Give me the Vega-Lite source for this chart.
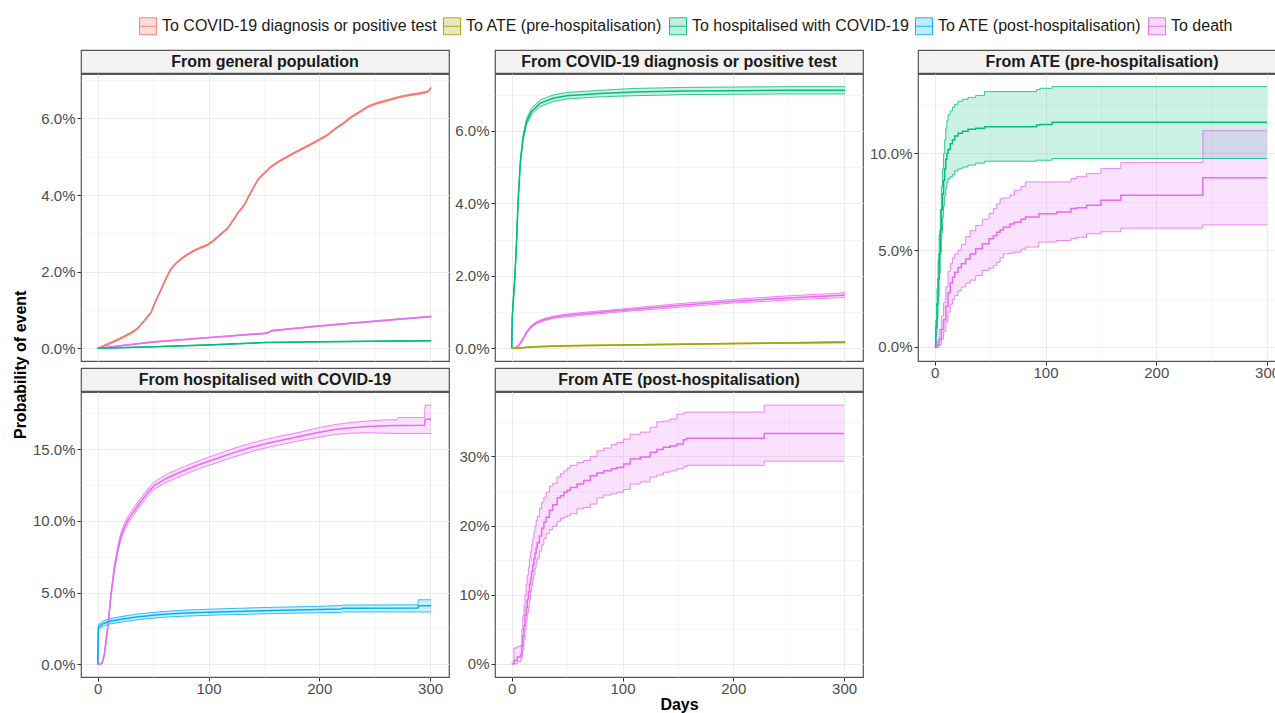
{
  "$schema": "https://vega.github.io/schema/vega-lite/v6.json",
  "padding": {"top": 17, "left": 12, "right": 0, "bottom": 0},
  "title": {"text": "Probability of event", "orient": "left", "anchor": "middle", "fontSize": 16, "fontWeight": "bold", "color": "#000000", "offset": 3},
  "datasets": {
    "cif": [
      {"panel":"gen","to":"To COVID-19 diagnosis or positive test","day":0,"est":0,"lo":0,"hi":0},
      {"panel":"gen","to":"To COVID-19 diagnosis or positive test","day":10,"est":0.0012,"lo":0.001,"hi":0.0014},
      {"panel":"gen","to":"To COVID-19 diagnosis or positive test","day":20,"est":0.0025,"lo":0.0023,"hi":0.0027},
      {"panel":"gen","to":"To COVID-19 diagnosis or positive test","day":30,"est":0.004,"lo":0.0038,"hi":0.0042},
      {"panel":"gen","to":"To COVID-19 diagnosis or positive test","day":36,"est":0.0052,"lo":0.005,"hi":0.0054},
      {"panel":"gen","to":"To COVID-19 diagnosis or positive test","day":42,"est":0.0072,"lo":0.007,"hi":0.0074},
      {"panel":"gen","to":"To COVID-19 diagnosis or positive test","day":48,"est":0.0093,"lo":0.0091,"hi":0.0095},
      {"panel":"gen","to":"To COVID-19 diagnosis or positive test","day":53,"est":0.0128,"lo":0.0126,"hi":0.013},
      {"panel":"gen","to":"To COVID-19 diagnosis or positive test","day":57,"est":0.0152,"lo":0.015,"hi":0.0154},
      {"panel":"gen","to":"To COVID-19 diagnosis or positive test","day":61,"est":0.0178,"lo":0.0176,"hi":0.018},
      {"panel":"gen","to":"To COVID-19 diagnosis or positive test","day":66,"est":0.0207,"lo":0.0205,"hi":0.0209},
      {"panel":"gen","to":"To COVID-19 diagnosis or positive test","day":70,"est":0.022,"lo":0.0218,"hi":0.0222},
      {"panel":"gen","to":"To COVID-19 diagnosis or positive test","day":75,"est":0.0233,"lo":0.0231,"hi":0.0235},
      {"panel":"gen","to":"To COVID-19 diagnosis or positive test","day":81,"est":0.0245,"lo":0.0243,"hi":0.0247},
      {"panel":"gen","to":"To COVID-19 diagnosis or positive test","day":87,"est":0.0255,"lo":0.0253,"hi":0.0257},
      {"panel":"gen","to":"To COVID-19 diagnosis or positive test","day":93,"est":0.0263,"lo":0.0261,"hi":0.0265},
      {"panel":"gen","to":"To COVID-19 diagnosis or positive test","day":99,"est":0.027,"lo":0.0268,"hi":0.0272},
      {"panel":"gen","to":"To COVID-19 diagnosis or positive test","day":104,"est":0.028,"lo":0.0278,"hi":0.0282},
      {"panel":"gen","to":"To COVID-19 diagnosis or positive test","day":108,"est":0.029,"lo":0.0288,"hi":0.0292},
      {"panel":"gen","to":"To COVID-19 diagnosis or positive test","day":113,"est":0.0303,"lo":0.0301,"hi":0.0305},
      {"panel":"gen","to":"To COVID-19 diagnosis or positive test","day":117,"est":0.0312,"lo":0.031,"hi":0.0314},
      {"panel":"gen","to":"To COVID-19 diagnosis or positive test","day":120,"est":0.0325,"lo":0.0323,"hi":0.0327},
      {"panel":"gen","to":"To COVID-19 diagnosis or positive test","day":123,"est":0.0338,"lo":0.0336,"hi":0.034},
      {"panel":"gen","to":"To COVID-19 diagnosis or positive test","day":127,"est":0.0355,"lo":0.0353,"hi":0.0357},
      {"panel":"gen","to":"To COVID-19 diagnosis or positive test","day":132,"est":0.0373,"lo":0.0371,"hi":0.0375},
      {"panel":"gen","to":"To COVID-19 diagnosis or positive test","day":136,"est":0.0395,"lo":0.0393,"hi":0.0397},
      {"panel":"gen","to":"To COVID-19 diagnosis or positive test","day":141,"est":0.0422,"lo":0.042,"hi":0.0424},
      {"panel":"gen","to":"To COVID-19 diagnosis or positive test","day":145,"est":0.0442,"lo":0.044,"hi":0.0444},
      {"panel":"gen","to":"To COVID-19 diagnosis or positive test","day":150,"est":0.0456,"lo":0.0454,"hi":0.0458},
      {"panel":"gen","to":"To COVID-19 diagnosis or positive test","day":156,"est":0.0473,"lo":0.0471,"hi":0.0475},
      {"panel":"gen","to":"To COVID-19 diagnosis or positive test","day":162,"est":0.0485,"lo":0.0483,"hi":0.0487},
      {"panel":"gen","to":"To COVID-19 diagnosis or positive test","day":168,"est":0.0495,"lo":0.0493,"hi":0.0497},
      {"panel":"gen","to":"To COVID-19 diagnosis or positive test","day":176,"est":0.0508,"lo":0.0506,"hi":0.051},
      {"panel":"gen","to":"To COVID-19 diagnosis or positive test","day":184,"est":0.052,"lo":0.0518,"hi":0.0522},
      {"panel":"gen","to":"To COVID-19 diagnosis or positive test","day":192,"est":0.0532,"lo":0.053,"hi":0.0534},
      {"panel":"gen","to":"To COVID-19 diagnosis or positive test","day":199,"est":0.0543,"lo":0.0541,"hi":0.0545},
      {"panel":"gen","to":"To COVID-19 diagnosis or positive test","day":207,"est":0.0556,"lo":0.0554,"hi":0.0558},
      {"panel":"gen","to":"To COVID-19 diagnosis or positive test","day":214,"est":0.0572,"lo":0.057,"hi":0.0574},
      {"panel":"gen","to":"To COVID-19 diagnosis or positive test","day":222,"est":0.0588,"lo":0.0586,"hi":0.059},
      {"panel":"gen","to":"To COVID-19 diagnosis or positive test","day":229,"est":0.0604,"lo":0.0602,"hi":0.0606},
      {"panel":"gen","to":"To COVID-19 diagnosis or positive test","day":237,"est":0.0618,"lo":0.0616,"hi":0.062},
      {"panel":"gen","to":"To COVID-19 diagnosis or positive test","day":244,"est":0.0631,"lo":0.0629,"hi":0.0633},
      {"panel":"gen","to":"To COVID-19 diagnosis or positive test","day":251,"est":0.0639,"lo":0.0637,"hi":0.0641},
      {"panel":"gen","to":"To COVID-19 diagnosis or positive test","day":259,"est":0.0645,"lo":0.0643,"hi":0.0647},
      {"panel":"gen","to":"To COVID-19 diagnosis or positive test","day":266,"est":0.0651,"lo":0.0649,"hi":0.0653},
      {"panel":"gen","to":"To COVID-19 diagnosis or positive test","day":274,"est":0.0657,"lo":0.0655,"hi":0.0659},
      {"panel":"gen","to":"To COVID-19 diagnosis or positive test","day":283,"est":0.0662,"lo":0.066,"hi":0.0664},
      {"panel":"gen","to":"To COVID-19 diagnosis or positive test","day":292,"est":0.0666,"lo":0.0664,"hi":0.0668},
      {"panel":"gen","to":"To COVID-19 diagnosis or positive test","day":298,"est":0.067,"lo":0.0668,"hi":0.0672},
      {"panel":"gen","to":"To COVID-19 diagnosis or positive test","day":301,"est":0.068,"lo":0.0676,"hi":0.0682},
      {"panel":"gen","to":"To death","day":0,"est":0,"lo":0,"hi":0},
      {"panel":"gen","to":"To death","day":50,"est":0.00166,"lo":0.00156,"hi":0.00176},
      {"panel":"gen","to":"To death","day":100,"est":0.0028,"lo":0.0027,"hi":0.0029},
      {"panel":"gen","to":"To death","day":150,"est":0.0039,"lo":0.0038,"hi":0.004},
      {"panel":"gen","to":"To death","day":153,"est":0.004,"lo":0.0039,"hi":0.0041},
      {"panel":"gen","to":"To death","day":157,"est":0.0046,"lo":0.0045,"hi":0.0047},
      {"panel":"gen","to":"To death","day":200,"est":0.00585,"lo":0.00575,"hi":0.00595},
      {"panel":"gen","to":"To death","day":250,"est":0.0071,"lo":0.007,"hi":0.0072},
      {"panel":"gen","to":"To death","day":301,"est":0.0083,"lo":0.0082,"hi":0.0084},
      {"panel":"gen","to":"To hospitalised with COVID-19","day":0,"est":0,"lo":0,"hi":0},
      {"panel":"gen","to":"To hospitalised with COVID-19","day":50,"est":0.0004,"lo":0.00035,"hi":0.00045},
      {"panel":"gen","to":"To hospitalised with COVID-19","day":100,"est":0.0009,"lo":0.00085,"hi":0.00095},
      {"panel":"gen","to":"To hospitalised with COVID-19","day":150,"est":0.0015,"lo":0.00145,"hi":0.00155},
      {"panel":"gen","to":"To hospitalised with COVID-19","day":200,"est":0.0017,"lo":0.00165,"hi":0.00175},
      {"panel":"gen","to":"To hospitalised with COVID-19","day":250,"est":0.00185,"lo":0.0018,"hi":0.0019},
      {"panel":"gen","to":"To hospitalised with COVID-19","day":301,"est":0.002,"lo":0.00195,"hi":0.00205},

      {"panel":"dx","to":"To hospitalised with COVID-19","day":0,"est":0,"lo":0,"hi":0},
      {"panel":"dx","to":"To hospitalised with COVID-19","day":0.5,"est":0.009,"lo":0.0085,"hi":0.0095},
      {"panel":"dx","to":"To hospitalised with COVID-19","day":2.7,"est":0.019,"lo":0.0185,"hi":0.0195},
      {"panel":"dx","to":"To hospitalised with COVID-19","day":4.2,"est":0.0283,"lo":0.0278,"hi":0.0288},
      {"panel":"dx","to":"To hospitalised with COVID-19","day":5.7,"est":0.0403,"lo":0.0397,"hi":0.0409},
      {"panel":"dx","to":"To hospitalised with COVID-19","day":7.8,"est":0.0514,"lo":0.0507,"hi":0.0521},
      {"panel":"dx","to":"To hospitalised with COVID-19","day":10.2,"est":0.0579,"lo":0.0572,"hi":0.0586},
      {"panel":"dx","to":"To hospitalised with COVID-19","day":13.3,"est":0.0625,"lo":0.0617,"hi":0.0633},
      {"panel":"dx","to":"To hospitalised with COVID-19","day":17.8,"est":0.0653,"lo":0.0644,"hi":0.0662},
      {"panel":"dx","to":"To hospitalised with COVID-19","day":25.3,"est":0.0676,"lo":0.0667,"hi":0.0685},
      {"panel":"dx","to":"To hospitalised with COVID-19","day":37.3,"est":0.069,"lo":0.0681,"hi":0.0699},
      {"panel":"dx","to":"To hospitalised with COVID-19","day":49.4,"est":0.0697,"lo":0.0688,"hi":0.0706},
      {"panel":"dx","to":"To hospitalised with COVID-19","day":79.5,"est":0.0703,"lo":0.0694,"hi":0.0712},
      {"panel":"dx","to":"To hospitalised with COVID-19","day":109.6,"est":0.0707,"lo":0.0697,"hi":0.0717},
      {"panel":"dx","to":"To hospitalised with COVID-19","day":154.8,"est":0.071,"lo":0.07,"hi":0.072},
      {"panel":"dx","to":"To hospitalised with COVID-19","day":200,"est":0.0711,"lo":0.0701,"hi":0.0721},
      {"panel":"dx","to":"To hospitalised with COVID-19","day":245,"est":0.0712,"lo":0.0702,"hi":0.0722},
      {"panel":"dx","to":"To hospitalised with COVID-19","day":301,"est":0.0712,"lo":0.0702,"hi":0.0722},
      {"panel":"dx","to":"To death","day":0,"est":0,"lo":0,"hi":0},
      {"panel":"dx","to":"To death","day":3,"est":0,"lo":0,"hi":0},
      {"panel":"dx","to":"To death","day":7,"est":0.001,"lo":0.0009,"hi":0.0011},
      {"panel":"dx","to":"To death","day":10,"est":0.0025,"lo":0.0023,"hi":0.0027},
      {"panel":"dx","to":"To death","day":13,"est":0.0042,"lo":0.0039,"hi":0.0045},
      {"panel":"dx","to":"To death","day":17,"est":0.0058,"lo":0.0055,"hi":0.0061},
      {"panel":"dx","to":"To death","day":22,"est":0.007,"lo":0.0067,"hi":0.0073},
      {"panel":"dx","to":"To death","day":30,"est":0.008,"lo":0.0077,"hi":0.0083},
      {"panel":"dx","to":"To death","day":40,"est":0.0087,"lo":0.0084,"hi":0.009},
      {"panel":"dx","to":"To death","day":50,"est":0.0091,"lo":0.0087,"hi":0.0095},
      {"panel":"dx","to":"To death","day":75,"est":0.0098,"lo":0.0094,"hi":0.0102},
      {"panel":"dx","to":"To death","day":100,"est":0.0105,"lo":0.0101,"hi":0.0109},
      {"panel":"dx","to":"To death","day":150,"est":0.0118,"lo":0.0113,"hi":0.0123},
      {"panel":"dx","to":"To death","day":200,"est":0.013,"lo":0.0125,"hi":0.0135},
      {"panel":"dx","to":"To death","day":250,"est":0.0139,"lo":0.0133,"hi":0.0145},
      {"panel":"dx","to":"To death","day":290,"est":0.0145,"lo":0.0139,"hi":0.0151},
      {"panel":"dx","to":"To death","day":301,"est":0.0147,"lo":0.014,"hi":0.0154},
      {"panel":"dx","to":"To ATE (pre-hospitalisation)","day":0,"est":0,"lo":0,"hi":0},
      {"panel":"dx","to":"To ATE (pre-hospitalisation)","day":3,"est":0,"lo":0,"hi":0},
      {"panel":"dx","to":"To ATE (pre-hospitalisation)","day":20,"est":0.0004,"lo":0.0003,"hi":0.0005},
      {"panel":"dx","to":"To ATE (pre-hospitalisation)","day":50,"est":0.0007,"lo":0.0006,"hi":0.0008},
      {"panel":"dx","to":"To ATE (pre-hospitalisation)","day":100,"est":0.0009,"lo":0.0008,"hi":0.001},
      {"panel":"dx","to":"To ATE (pre-hospitalisation)","day":150,"est":0.0011,"lo":0.001,"hi":0.0012},
      {"panel":"dx","to":"To ATE (pre-hospitalisation)","day":200,"est":0.0013,"lo":0.0012,"hi":0.0014},
      {"panel":"dx","to":"To ATE (pre-hospitalisation)","day":250,"est":0.0015,"lo":0.0014,"hi":0.0016},
      {"panel":"dx","to":"To ATE (pre-hospitalisation)","day":301,"est":0.0017,"lo":0.0015,"hi":0.0019},

      {"panel":"atepre","to":"To hospitalised with COVID-19","day":0,"est":0,"lo":0,"hi":0},
      {"panel":"atepre","to":"To hospitalised with COVID-19","day":1,"est":0.01,"lo":0.006,"hi":0.014},
      {"panel":"atepre","to":"To hospitalised with COVID-19","day":2,"est":0.022,"lo":0.015,"hi":0.03},
      {"panel":"atepre","to":"To hospitalised with COVID-19","day":3,"est":0.035,"lo":0.026,"hi":0.045},
      {"panel":"atepre","to":"To hospitalised with COVID-19","day":4,"est":0.048,"lo":0.038,"hi":0.058},
      {"panel":"atepre","to":"To hospitalised with COVID-19","day":5,"est":0.06,"lo":0.049,"hi":0.071},
      {"panel":"atepre","to":"To hospitalised with COVID-19","day":6,"est":0.071,"lo":0.059,"hi":0.083},
      {"panel":"atepre","to":"To hospitalised with COVID-19","day":7,"est":0.079,"lo":0.067,"hi":0.092},
      {"panel":"atepre","to":"To hospitalised with COVID-19","day":8,"est":0.086,"lo":0.073,"hi":0.1},
      {"panel":"atepre","to":"To hospitalised with COVID-19","day":9,"est":0.092,"lo":0.078,"hi":0.107},
      {"panel":"atepre","to":"To hospitalised with COVID-19","day":10,"est":0.097,"lo":0.082,"hi":0.113},
      {"panel":"atepre","to":"To hospitalised with COVID-19","day":11,"est":0.1,"lo":0.085,"hi":0.117},
      {"panel":"atepre","to":"To hospitalised with COVID-19","day":12,"est":0.102,"lo":0.087,"hi":0.12},
      {"panel":"atepre","to":"To hospitalised with COVID-19","day":14,"est":0.105,"lo":0.088,"hi":0.122},
      {"panel":"atepre","to":"To hospitalised with COVID-19","day":16,"est":0.107,"lo":0.089,"hi":0.124},
      {"panel":"atepre","to":"To hospitalised with COVID-19","day":18,"est":0.109,"lo":0.091,"hi":0.1255},
      {"panel":"atepre","to":"To hospitalised with COVID-19","day":21,"est":0.1105,"lo":0.092,"hi":0.127},
      {"panel":"atepre","to":"To hospitalised with COVID-19","day":25,"est":0.1115,"lo":0.093,"hi":0.128},
      {"panel":"atepre","to":"To hospitalised with COVID-19","day":30,"est":0.1125,"lo":0.094,"hi":0.129},
      {"panel":"atepre","to":"To hospitalised with COVID-19","day":37,"est":0.113,"lo":0.095,"hi":0.13},
      {"panel":"atepre","to":"To hospitalised with COVID-19","day":45,"est":0.1138,"lo":0.096,"hi":0.132},
      {"panel":"atepre","to":"To hospitalised with COVID-19","day":92,"est":0.1147,"lo":0.0965,"hi":0.133},
      {"panel":"atepre","to":"To hospitalised with COVID-19","day":95,"est":0.115,"lo":0.0965,"hi":0.1337},
      {"panel":"atepre","to":"To hospitalised with COVID-19","day":106,"est":0.1161,"lo":0.0974,"hi":0.1346},
      {"panel":"atepre","to":"To hospitalised with COVID-19","day":300,"est":0.1161,"lo":0.0974,"hi":0.1346},
      {"panel":"atepre","to":"To death","day":0,"est":0,"lo":-0.0003,"hi":0},
      {"panel":"atepre","to":"To death","day":2,"est":0.001,"lo":-0.0003,"hi":0.003},
      {"panel":"atepre","to":"To death","day":4,"est":0.004,"lo":0.001,"hi":0.009},
      {"panel":"atepre","to":"To death","day":6,"est":0.009,"lo":0.004,"hi":0.016},
      {"panel":"atepre","to":"To death","day":8,"est":0.014,"lo":0.008,"hi":0.023},
      {"panel":"atepre","to":"To death","day":10,"est":0.021,"lo":0.013,"hi":0.031},
      {"panel":"atepre","to":"To death","day":12,"est":0.028,"lo":0.018,"hi":0.039},
      {"panel":"atepre","to":"To death","day":14,"est":0.033,"lo":0.022,"hi":0.043},
      {"panel":"atepre","to":"To death","day":16,"est":0.036,"lo":0.0245,"hi":0.046},
      {"panel":"atepre","to":"To death","day":18,"est":0.0386,"lo":0.0265,"hi":0.048},
      {"panel":"atepre","to":"To death","day":21,"est":0.041,"lo":0.029,"hi":0.05},
      {"panel":"atepre","to":"To death","day":24,"est":0.043,"lo":0.031,"hi":0.053},
      {"panel":"atepre","to":"To death","day":28,"est":0.0455,"lo":0.033,"hi":0.057},
      {"panel":"atepre","to":"To death","day":32,"est":0.048,"lo":0.0345,"hi":0.06},
      {"panel":"atepre","to":"To death","day":37,"est":0.0507,"lo":0.0369,"hi":0.0628},
      {"panel":"atepre","to":"To death","day":43,"est":0.0533,"lo":0.0395,"hi":0.066},
      {"panel":"atepre","to":"To death","day":49,"est":0.0559,"lo":0.0407,"hi":0.069},
      {"panel":"atepre","to":"To death","day":53,"est":0.0575,"lo":0.042,"hi":0.0715},
      {"panel":"atepre","to":"To death","day":56,"est":0.0593,"lo":0.0438,"hi":0.074},
      {"panel":"atepre","to":"To death","day":59,"est":0.0605,"lo":0.046,"hi":0.0766},
      {"panel":"atepre","to":"To death","day":62,"est":0.0619,"lo":0.0481,"hi":0.077},
      {"panel":"atepre","to":"To death","day":68,"est":0.0635,"lo":0.0485,"hi":0.0785},
      {"panel":"atepre","to":"To death","day":72,"est":0.0645,"lo":0.049,"hi":0.081},
      {"panel":"atepre","to":"To death","day":78,"est":0.066,"lo":0.0505,"hi":0.083},
      {"panel":"atepre","to":"To death","day":82,"est":0.0671,"lo":0.0516,"hi":0.0853},
      {"panel":"atepre","to":"To death","day":94,"est":0.0689,"lo":0.0542,"hi":0.0853},
      {"panel":"atepre","to":"To death","day":110,"est":0.0697,"lo":0.055,"hi":0.0853},
      {"panel":"atepre","to":"To death","day":123,"est":0.0715,"lo":0.056,"hi":0.087},
      {"panel":"atepre","to":"To death","day":128,"est":0.072,"lo":0.0567,"hi":0.088},
      {"panel":"atepre","to":"To death","day":137,"est":0.0732,"lo":0.0585,"hi":0.0896},
      {"panel":"atepre","to":"To death","day":150,"est":0.0758,"lo":0.0595,"hi":0.0922},
      {"panel":"atepre","to":"To death","day":168,"est":0.0784,"lo":0.0614,"hi":0.0953},
      {"panel":"atepre","to":"To death","day":242,"est":0.0875,"lo":0.0631,"hi":0.1118},
      {"panel":"atepre","to":"To death","day":300,"est":0.0875,"lo":0.0631,"hi":0.1118},

      {"panel":"hosp","to":"To death","day":0,"est":0,"lo":0,"hi":0},
      {"panel":"hosp","to":"To death","day":2,"est":0,"lo":0,"hi":0},
      {"panel":"hosp","to":"To death","day":4,"est":0.001,"lo":0.0005,"hi":0.0015},
      {"panel":"hosp","to":"To death","day":6,"est":0.0069,"lo":0.006,"hi":0.008},
      {"panel":"hosp","to":"To death","day":9,"est":0.0254,"lo":0.024,"hi":0.027},
      {"panel":"hosp","to":"To death","day":12,"est":0.0485,"lo":0.047,"hi":0.05},
      {"panel":"hosp","to":"To death","day":15,"est":0.0669,"lo":0.065,"hi":0.069},
      {"panel":"hosp","to":"To death","day":18,"est":0.0795,"lo":0.0772,"hi":0.0818},
      {"panel":"hosp","to":"To death","day":20,"est":0.0865,"lo":0.0841,"hi":0.0889},
      {"panel":"hosp","to":"To death","day":22,"est":0.0915,"lo":0.089,"hi":0.094},
      {"panel":"hosp","to":"To death","day":24,"est":0.0955,"lo":0.093,"hi":0.098},
      {"panel":"hosp","to":"To death","day":27,"est":0.1,"lo":0.0975,"hi":0.1025},
      {"panel":"hosp","to":"To death","day":30,"est":0.1038,"lo":0.1013,"hi":0.1063},
      {"panel":"hosp","to":"To death","day":33,"est":0.107,"lo":0.1045,"hi":0.1095},
      {"panel":"hosp","to":"To death","day":37,"est":0.1115,"lo":0.109,"hi":0.114},
      {"panel":"hosp","to":"To death","day":42,"est":0.1165,"lo":0.114,"hi":0.119},
      {"panel":"hosp","to":"To death","day":46,"est":0.1205,"lo":0.118,"hi":0.123},
      {"panel":"hosp","to":"To death","day":51,"est":0.1245,"lo":0.122,"hi":0.127},
      {"panel":"hosp","to":"To death","day":63,"est":0.13,"lo":0.1272,"hi":0.1328},
      {"panel":"hosp","to":"To death","day":78,"est":0.135,"lo":0.1322,"hi":0.1378},
      {"panel":"hosp","to":"To death","day":93,"est":0.1395,"lo":0.1367,"hi":0.1423},
      {"panel":"hosp","to":"To death","day":108,"est":0.1435,"lo":0.1405,"hi":0.1465},
      {"panel":"hosp","to":"To death","day":123,"est":0.1475,"lo":0.1445,"hi":0.1505},
      {"panel":"hosp","to":"To death","day":138,"est":0.151,"lo":0.148,"hi":0.154},
      {"panel":"hosp","to":"To death","day":153,"est":0.154,"lo":0.151,"hi":0.157},
      {"panel":"hosp","to":"To death","day":168,"est":0.1565,"lo":0.1535,"hi":0.1595},
      {"panel":"hosp","to":"To death","day":184,"est":0.159,"lo":0.156,"hi":0.162},
      {"panel":"hosp","to":"To death","day":199,"est":0.1615,"lo":0.1582,"hi":0.1648},
      {"panel":"hosp","to":"To death","day":214,"est":0.1635,"lo":0.16,"hi":0.167},
      {"panel":"hosp","to":"To death","day":229,"est":0.1648,"lo":0.161,"hi":0.1685},
      {"panel":"hosp","to":"To death","day":244,"est":0.1656,"lo":0.1613,"hi":0.1695},
      {"panel":"hosp","to":"To death","day":260,"est":0.1662,"lo":0.161,"hi":0.1703},
      {"panel":"hosp","to":"To death","day":270,"est":0.1664,"lo":0.1608,"hi":0.1703},
      {"panel":"hosp","to":"To death","day":271,"est":0.1664,"lo":0.1608,"hi":0.1719},
      {"panel":"hosp","to":"To death","day":295,"est":0.1666,"lo":0.1608,"hi":0.1719},
      {"panel":"hosp","to":"To death","day":295.5,"est":0.1708,"lo":0.1608,"hi":0.1805},
      {"panel":"hosp","to":"To death","day":301,"est":0.1708,"lo":0.1608,"hi":0.1805},
      {"panel":"hosp","to":"To ATE (post-hospitalisation)","day":0,"est":0,"lo":0,"hi":0},
      {"panel":"hosp","to":"To ATE (post-hospitalisation)","day":0.6,"est":0.026,"lo":0.0242,"hi":0.0277},
      {"panel":"hosp","to":"To ATE (post-hospitalisation)","day":5,"est":0.0285,"lo":0.0267,"hi":0.0303},
      {"panel":"hosp","to":"To ATE (post-hospitalisation)","day":10,"est":0.0298,"lo":0.028,"hi":0.0316},
      {"panel":"hosp","to":"To ATE (post-hospitalisation)","day":20,"est":0.0312,"lo":0.0293,"hi":0.0331},
      {"panel":"hosp","to":"To ATE (post-hospitalisation)","day":33,"est":0.0328,"lo":0.0308,"hi":0.0348},
      {"panel":"hosp","to":"To ATE (post-hospitalisation)","day":50,"est":0.0342,"lo":0.0322,"hi":0.0362},
      {"panel":"hosp","to":"To ATE (post-hospitalisation)","day":63,"est":0.035,"lo":0.033,"hi":0.037},
      {"panel":"hosp","to":"To ATE (post-hospitalisation)","day":80,"est":0.0357,"lo":0.0336,"hi":0.0378},
      {"panel":"hosp","to":"To ATE (post-hospitalisation)","day":100,"est":0.0363,"lo":0.0342,"hi":0.0384},
      {"panel":"hosp","to":"To ATE (post-hospitalisation)","day":150,"est":0.0374,"lo":0.0352,"hi":0.0396},
      {"panel":"hosp","to":"To ATE (post-hospitalisation)","day":200,"est":0.0382,"lo":0.036,"hi":0.0404},
      {"panel":"hosp","to":"To ATE (post-hospitalisation)","day":220,"est":0.0386,"lo":0.0362,"hi":0.041},
      {"panel":"hosp","to":"To ATE (post-hospitalisation)","day":221,"est":0.039,"lo":0.0365,"hi":0.0413},
      {"panel":"hosp","to":"To ATE (post-hospitalisation)","day":289,"est":0.0392,"lo":0.0365,"hi":0.0415},
      {"panel":"hosp","to":"To ATE (post-hospitalisation)","day":289.5,"est":0.0408,"lo":0.0365,"hi":0.045},
      {"panel":"hosp","to":"To ATE (post-hospitalisation)","day":301,"est":0.0408,"lo":0.0365,"hi":0.045},

      {"panel":"atepost","to":"To death","day":0,"est":0,"lo":0,"hi":0},
      {"panel":"atepost","to":"To death","day":2,"est":0.005,"lo":0,"hi":0.023},
      {"panel":"atepost","to":"To death","day":5,"est":0.01,"lo":0.003,"hi":0.025},
      {"panel":"atepost","to":"To death","day":8,"est":0.013,"lo":0.005,"hi":0.027},
      {"panel":"atepost","to":"To death","day":9,"est":0.025,"lo":0.01,"hi":0.05},
      {"panel":"atepost","to":"To death","day":10,"est":0.04,"lo":0.02,"hi":0.07},
      {"panel":"atepost","to":"To death","day":11,"est":0.055,"lo":0.035,"hi":0.085},
      {"panel":"atepost","to":"To death","day":12,"est":0.07,"lo":0.05,"hi":0.1},
      {"panel":"atepost","to":"To death","day":13,"est":0.082,"lo":0.062,"hi":0.115},
      {"panel":"atepost","to":"To death","day":14,"est":0.093,"lo":0.073,"hi":0.128},
      {"panel":"atepost","to":"To death","day":15,"est":0.104,"lo":0.082,"hi":0.14},
      {"panel":"atepost","to":"To death","day":16,"est":0.115,"lo":0.092,"hi":0.152},
      {"panel":"atepost","to":"To death","day":17,"est":0.124,"lo":0.105,"hi":0.162},
      {"panel":"atepost","to":"To death","day":18,"est":0.134,"lo":0.113,"hi":0.172},
      {"panel":"atepost","to":"To death","day":19,"est":0.143,"lo":0.122,"hi":0.181},
      {"panel":"atepost","to":"To death","day":20,"est":0.152,"lo":0.13,"hi":0.191},
      {"panel":"atepost","to":"To death","day":21,"est":0.16,"lo":0.138,"hi":0.199},
      {"panel":"atepost","to":"To death","day":22,"est":0.168,"lo":0.146,"hi":0.207},
      {"panel":"atepost","to":"To death","day":23,"est":0.175,"lo":0.152,"hi":0.213},
      {"panel":"atepost","to":"To death","day":25,"est":0.185,"lo":0.163,"hi":0.225},
      {"panel":"atepost","to":"To death","day":27,"est":0.196,"lo":0.172,"hi":0.233},
      {"panel":"atepost","to":"To death","day":29,"est":0.205,"lo":0.181,"hi":0.241},
      {"panel":"atepost","to":"To death","day":31,"est":0.212,"lo":0.188,"hi":0.248},
      {"panel":"atepost","to":"To death","day":34,"est":0.222,"lo":0.194,"hi":0.257},
      {"panel":"atepost","to":"To death","day":37,"est":0.23,"lo":0.199,"hi":0.261},
      {"panel":"atepost","to":"To death","day":41,"est":0.24,"lo":0.206,"hi":0.27},
      {"panel":"atepost","to":"To death","day":44,"est":0.243,"lo":0.21,"hi":0.275},
      {"panel":"atepost","to":"To death","day":47,"est":0.248,"lo":0.212,"hi":0.279},
      {"panel":"atepost","to":"To death","day":50,"est":0.251,"lo":0.214,"hi":0.283},
      {"panel":"atepost","to":"To death","day":53,"est":0.255,"lo":0.217,"hi":0.287},
      {"panel":"atepost","to":"To death","day":59,"est":0.26,"lo":0.224,"hi":0.291},
      {"panel":"atepost","to":"To death","day":65,"est":0.265,"lo":0.226,"hi":0.294},
      {"panel":"atepost","to":"To death","day":71,"est":0.272,"lo":0.231,"hi":0.3},
      {"panel":"atepost","to":"To death","day":77,"est":0.276,"lo":0.24,"hi":0.308},
      {"panel":"atepost","to":"To death","day":83,"est":0.279,"lo":0.244,"hi":0.312},
      {"panel":"atepost","to":"To death","day":90,"est":0.282,"lo":0.246,"hi":0.317},
      {"panel":"atepost","to":"To death","day":95,"est":0.284,"lo":0.248,"hi":0.32},
      {"panel":"atepost","to":"To death","day":101,"est":0.289,"lo":0.252,"hi":0.325},
      {"panel":"atepost","to":"To death","day":107,"est":0.296,"lo":0.26,"hi":0.332},
      {"panel":"atepost","to":"To death","day":116,"est":0.299,"lo":0.263,"hi":0.335},
      {"panel":"atepost","to":"To death","day":125,"est":0.306,"lo":0.27,"hi":0.342},
      {"panel":"atepost","to":"To death","day":131,"est":0.31,"lo":0.273,"hi":0.35},
      {"panel":"atepost","to":"To death","day":137,"est":0.313,"lo":0.277,"hi":0.351},
      {"panel":"atepost","to":"To death","day":143,"est":0.315,"lo":0.279,"hi":0.354},
      {"panel":"atepost","to":"To death","day":149,"est":0.318,"lo":0.282,"hi":0.361},
      {"panel":"atepost","to":"To death","day":155,"est":0.324,"lo":0.285,"hi":0.363},
      {"panel":"atepost","to":"To death","day":158,"est":0.326,"lo":0.287,"hi":0.364},
      {"panel":"atepost","to":"To death","day":228,"est":0.333,"lo":0.293,"hi":0.374},
      {"panel":"atepost","to":"To death","day":300,"est":0.333,"lo":0.293,"hi":0.374}
    ]
  },
  "hconcat": [
    {
      "vconcat": [
        {
          "vconcat": [
            {"width": 368, "height": 23, "data": {"values": [{"strip": "From general population"}]}, "mark": {"type": "text", "fontSize": 16, "fontWeight": "bold", "color": "#1A1A1A"}, "encoding": {"text": {"field": "strip"}}, "view": {"fill": "#F2F2F2", "stroke": "#555555", "strokeWidth": 1.2}},
            {
              "width": 368, "height": 287,
              "data": {"name": "cif"},
              "transform": [{"filter": "datum.panel === 'gen'"}],
              "encoding": {
                "x": {"field": "day", "type": "quantitative", "scale": {"domain": [-15.1, 317.1], "nice": false, "zero": false},
                  "axis": {"title": null, "values": [0, 50, 100, 150, 200, 250, 300], "labels": false, "ticks": false, "gridWidth": {"condition": {"test": "datum.value % 100 === 0", "value": 1}, "value": 0.5}}},
                "color": {"field": "to", "type": "nominal",
                  "scale": {"domain": ["To COVID-19 diagnosis or positive test", "To ATE (pre-hospitalisation)", "To hospitalised with COVID-19", "To ATE (post-hospitalisation)", "To death"], "range": ["#F8766D", "#A3A500", "#00BF7D", "#00B0F6", "#E76BF3"]},
                  "legend": {"title": null, "orient": "none", "legendX": 58, "legendY": -33, "direction": "horizontal", "labelFontSize": 16, "labelColor": "#1A1A1A", "labelLimit": 400, "labelOffset": 5, "columnPadding": 4, "symbolType": "M-1,-1H1V1H-1ZM-1,0H1", "symbolSize": 289, "symbolStrokeWidth": 1, "padding": 0,
                    "encode": {"symbols": {"update": {"fill": {"scale": "color", "field": "value"}, "fillOpacity": {"value": 0.25}, "stroke": {"scale": "color", "field": "value"}, "strokeOpacity": {"value": 0.9}, "opacity": {"value": 1}}}}}}
              },
              "layer": [
                {"mark": {"type": "area", "interpolate": "linear", "fillOpacity": 0.2},
                  "encoding": {"y": {"field": "lo", "type": "quantitative", "scale": {"domain": [-0.0033, 0.0716], "nice": false, "zero": false},
                    "axis": {"title": null, "values": [0, 0.01, 0.02, 0.03, 0.04, 0.05, 0.06, 0.07], "format": ".1%", "labelExpr": "round(datum.value*100) % 2 === 0 ? datum.label : ''", "tickOpacity": {"condition": {"test": "round(datum.value*100) % 2 === 0", "value": 1}, "value": 0}, "gridWidth": {"condition": {"test": "round(datum.value*100) % 2 === 0", "value": 1}, "value": 0.5}}},
                    "y2": {"field": "hi"}}},
                {"transform": [{"fold": ["lo", "hi"], "as": ["bound", "val"]}], "mark": {"type": "line", "interpolate": "linear", "strokeWidth": 1, "strokeOpacity": 0.8},
                  "encoding": {"y": {"field": "val", "type": "quantitative", "title": null}, "detail": {"field": "bound", "type": "nominal"}}},
                {"mark": {"type": "line", "interpolate": "linear", "strokeWidth": 1.5},
                  "encoding": {"y": {"field": "est", "type": "quantitative", "title": null}}}
              ]
            }
          ],
          "spacing": -2
        },
        {
          "vconcat": [
            {"width": 368, "height": 23, "data": {"values": [{"strip": "From hospitalised with COVID-19"}]}, "mark": {"type": "text", "fontSize": 16, "fontWeight": "bold", "color": "#1A1A1A"}, "encoding": {"text": {"field": "strip"}}, "view": {"fill": "#F2F2F2", "stroke": "#555555", "strokeWidth": 1.2}},
            {
              "width": 368, "height": 285,
              "data": {"name": "cif"},
              "transform": [{"filter": "datum.panel === 'hosp'"}],
              "encoding": {
                "x": {"field": "day", "type": "quantitative", "scale": {"domain": [-15.1, 317.1], "nice": false, "zero": false},
                  "axis": {"title": null, "labelPadding": 0, "values": [0, 50, 100, 150, 200, 250, 300], "labelExpr": "datum.value % 100 === 0 ? datum.label : ''", "tickOpacity": {"condition": {"test": "datum.value % 100 === 0", "value": 1}, "value": 0}, "gridWidth": {"condition": {"test": "datum.value % 100 === 0", "value": 1}, "value": 0.5}}},
                "color": {"field": "to", "type": "nominal",
                  "scale": {"domain": ["To COVID-19 diagnosis or positive test", "To ATE (pre-hospitalisation)", "To hospitalised with COVID-19", "To ATE (post-hospitalisation)", "To death"], "range": ["#F8766D", "#A3A500", "#00BF7D", "#00B0F6", "#E76BF3"]}}
              },
              "layer": [
                {"mark": {"type": "area", "interpolate": "linear", "fillOpacity": 0.2},
                  "encoding": {"y": {"field": "lo", "type": "quantitative", "scale": {"domain": [-0.0088, 0.1897], "nice": false, "zero": false},
                    "axis": {"title": null, "values": [0, 0.025, 0.05, 0.075, 0.1, 0.125, 0.15, 0.175], "format": ".1%", "labelExpr": "round(datum.value*1000) % 50 === 0 ? datum.label : ''", "tickOpacity": {"condition": {"test": "round(datum.value*1000) % 50 === 0", "value": 1}, "value": 0}, "gridWidth": {"condition": {"test": "round(datum.value*1000) % 50 === 0", "value": 1}, "value": 0.5}}},
                    "y2": {"field": "hi"}}},
                {"transform": [{"fold": ["lo", "hi"], "as": ["bound", "val"]}], "mark": {"type": "line", "interpolate": "linear", "strokeWidth": 1, "strokeOpacity": 0.8},
                  "encoding": {"y": {"field": "val", "type": "quantitative", "title": null}, "detail": {"field": "bound", "type": "nominal"}}},
                {"mark": {"type": "line", "interpolate": "linear", "strokeWidth": 1.5},
                  "encoding": {"y": {"field": "est", "type": "quantitative", "title": null}}}
              ]
            }
          ],
          "spacing": -2
        }
      ],
      "spacing": 5
    },
    {
      "vconcat": [
        {
          "vconcat": [
            {"width": 368, "height": 23, "data": {"values": [{"strip": "From COVID-19 diagnosis or positive test"}]}, "mark": {"type": "text", "fontSize": 16, "fontWeight": "bold", "color": "#1A1A1A"}, "encoding": {"text": {"field": "strip"}}, "view": {"fill": "#F2F2F2", "stroke": "#555555", "strokeWidth": 1.2}},
            {
              "width": 368, "height": 287,
              "data": {"name": "cif"},
              "transform": [{"filter": "datum.panel === 'dx'"}],
              "encoding": {
                "x": {"field": "day", "type": "quantitative", "scale": {"domain": [-15.1, 317.1], "nice": false, "zero": false},
                  "axis": {"title": null, "values": [0, 50, 100, 150, 200, 250, 300], "labels": false, "ticks": false, "gridWidth": {"condition": {"test": "datum.value % 100 === 0", "value": 1}, "value": 0.5}}},
                "color": {"field": "to", "type": "nominal",
                  "scale": {"domain": ["To COVID-19 diagnosis or positive test", "To ATE (pre-hospitalisation)", "To hospitalised with COVID-19", "To ATE (post-hospitalisation)", "To death"], "range": ["#F8766D", "#A3A500", "#00BF7D", "#00B0F6", "#E76BF3"]}}
              },
              "layer": [
                {"mark": {"type": "area", "interpolate": "linear", "fillOpacity": 0.2},
                  "encoding": {"y": {"field": "lo", "type": "quantitative", "scale": {"domain": [-0.0035, 0.0757], "nice": false, "zero": false},
                    "axis": {"title": null, "values": [0, 0.01, 0.02, 0.03, 0.04, 0.05, 0.06, 0.07], "format": ".1%", "labelExpr": "round(datum.value*100) % 2 === 0 ? datum.label : ''", "tickOpacity": {"condition": {"test": "round(datum.value*100) % 2 === 0", "value": 1}, "value": 0}, "gridWidth": {"condition": {"test": "round(datum.value*100) % 2 === 0", "value": 1}, "value": 0.5}}},
                    "y2": {"field": "hi"}}},
                {"transform": [{"fold": ["lo", "hi"], "as": ["bound", "val"]}], "mark": {"type": "line", "interpolate": "linear", "strokeWidth": 1, "strokeOpacity": 0.8},
                  "encoding": {"y": {"field": "val", "type": "quantitative", "title": null}, "detail": {"field": "bound", "type": "nominal"}}},
                {"mark": {"type": "line", "interpolate": "linear", "strokeWidth": 1.5},
                  "encoding": {"y": {"field": "est", "type": "quantitative", "title": null}}}
              ]
            }
          ],
          "spacing": -2
        },
        {
          "vconcat": [
            {"width": 368, "height": 23, "data": {"values": [{"strip": "From ATE (post-hospitalisation)"}]}, "mark": {"type": "text", "fontSize": 16, "fontWeight": "bold", "color": "#1A1A1A"}, "encoding": {"text": {"field": "strip"}}, "view": {"fill": "#F2F2F2", "stroke": "#555555", "strokeWidth": 1.2}},
            {
              "width": 368, "height": 285,
              "data": {"name": "cif"},
              "transform": [{"filter": "datum.panel === 'atepost'"}],
              "encoding": {
                "x": {"field": "day", "type": "quantitative", "scale": {"domain": [-15.1, 317.1], "nice": false, "zero": false},
                  "axis": {"title": "Days", "titleFontSize": 16, "titleFontWeight": "bold", "titleColor": "#000000", "titlePadding": 0, "labelPadding": 0, "values": [0, 50, 100, 150, 200, 250, 300], "labelExpr": "datum.value % 100 === 0 ? datum.label : ''", "tickOpacity": {"condition": {"test": "datum.value % 100 === 0", "value": 1}, "value": 0}, "gridWidth": {"condition": {"test": "datum.value % 100 === 0", "value": 1}, "value": 0.5}}},
                "color": {"field": "to", "type": "nominal",
                  "scale": {"domain": ["To COVID-19 diagnosis or positive test", "To ATE (pre-hospitalisation)", "To hospitalised with COVID-19", "To ATE (post-hospitalisation)", "To death"], "range": ["#F8766D", "#A3A500", "#00BF7D", "#00B0F6", "#E76BF3"]}}
              },
              "layer": [
                {"mark": {"type": "area", "interpolate": "step-after", "fillOpacity": 0.2},
                  "encoding": {"y": {"field": "lo", "type": "quantitative", "scale": {"domain": [-0.019, 0.393], "nice": false, "zero": false},
                    "axis": {"title": null, "values": [0, 0.05, 0.1, 0.15, 0.2, 0.25, 0.3, 0.35], "format": ".0%", "labelExpr": "round(datum.value*100) % 10 === 0 ? datum.label : ''", "tickOpacity": {"condition": {"test": "round(datum.value*100) % 10 === 0", "value": 1}, "value": 0}, "gridWidth": {"condition": {"test": "round(datum.value*100) % 10 === 0", "value": 1}, "value": 0.5}}},
                    "y2": {"field": "hi"}}},
                {"transform": [{"fold": ["lo", "hi"], "as": ["bound", "val"]}], "mark": {"type": "line", "interpolate": "step-after", "strokeWidth": 1, "strokeOpacity": 0.8},
                  "encoding": {"y": {"field": "val", "type": "quantitative", "title": null}, "detail": {"field": "bound", "type": "nominal"}}},
                {"mark": {"type": "line", "interpolate": "step-after", "strokeWidth": 1.5},
                  "encoding": {"y": {"field": "est", "type": "quantitative", "title": null}}}
              ]
            }
          ],
          "spacing": -2
        }
      ],
      "spacing": 5
    },
    {
      "vconcat": [
        {"width": 368, "height": 23, "data": {"values": [{"strip": "From ATE (pre-hospitalisation)"}]}, "mark": {"type": "text", "fontSize": 16, "fontWeight": "bold", "color": "#1A1A1A"}, "encoding": {"text": {"field": "strip"}}, "view": {"fill": "#F2F2F2", "stroke": "#555555", "strokeWidth": 1.2}},
        {
          "width": 368, "height": 287,
          "data": {"name": "cif"},
          "transform": [{"filter": "datum.panel === 'atepre'"}],
          "encoding": {
            "x": {"field": "day", "type": "quantitative", "scale": {"domain": [-15.1, 317.1], "nice": false, "zero": false},
              "axis": {"title": null, "labelPadding": 0, "values": [0, 50, 100, 150, 200, 250, 300], "labelExpr": "datum.value % 100 === 0 ? datum.label : ''", "tickOpacity": {"condition": {"test": "datum.value % 100 === 0", "value": 1}, "value": 0}, "gridWidth": {"condition": {"test": "datum.value % 100 === 0", "value": 1}, "value": 0.5}}},
            "color": {"field": "to", "type": "nominal",
              "scale": {"domain": ["To COVID-19 diagnosis or positive test", "To ATE (pre-hospitalisation)", "To hospitalised with COVID-19", "To ATE (post-hospitalisation)", "To death"], "range": ["#F8766D", "#A3A500", "#00BF7D", "#00B0F6", "#E76BF3"]}}
          },
          "layer": [
            {"mark": {"type": "area", "interpolate": "step-after", "fillOpacity": 0.2},
              "encoding": {"y": {"field": "lo", "type": "quantitative", "scale": {"domain": [-0.0073, 0.1411], "nice": false, "zero": false},
                "axis": {"title": null, "values": [0, 0.025, 0.05, 0.075, 0.1, 0.125], "format": ".1%", "labelExpr": "round(datum.value*1000) % 50 === 0 ? datum.label : ''", "tickOpacity": {"condition": {"test": "round(datum.value*1000) % 50 === 0", "value": 1}, "value": 0}, "gridWidth": {"condition": {"test": "round(datum.value*1000) % 50 === 0", "value": 1}, "value": 0.5}}},
                "y2": {"field": "hi"}}},
            {"transform": [{"fold": ["lo", "hi"], "as": ["bound", "val"]}], "mark": {"type": "line", "interpolate": "step-after", "strokeWidth": 1, "strokeOpacity": 0.8},
              "encoding": {"y": {"field": "val", "type": "quantitative", "title": null}, "detail": {"field": "bound", "type": "nominal"}}},
            {"mark": {"type": "line", "interpolate": "step-after", "strokeWidth": 1.5},
              "encoding": {"y": {"field": "est", "type": "quantitative", "title": null}}}
          ]
        }
      ],
      "spacing": -2
    }
  ],
  "spacing": 4,
  "config": {
    "font": "Liberation Sans",
    "view": {"stroke": "#555555", "strokeWidth": 1.2},
    "axis": {"domain": false, "grid": true, "gridColor": "#EBEBEB", "tickSize": 4, "tickColor": "#333333", "tickWidth": 1, "labelFontSize": 15, "labelColor": "#4D4D4D", "labelPadding": 2, "labelOverlap": false, "labelFlush": false, "labelFont": "Liberation Sans", "titleFont": "Liberation Sans"},
    "text": {"font": "Liberation Sans"}
  }
}
